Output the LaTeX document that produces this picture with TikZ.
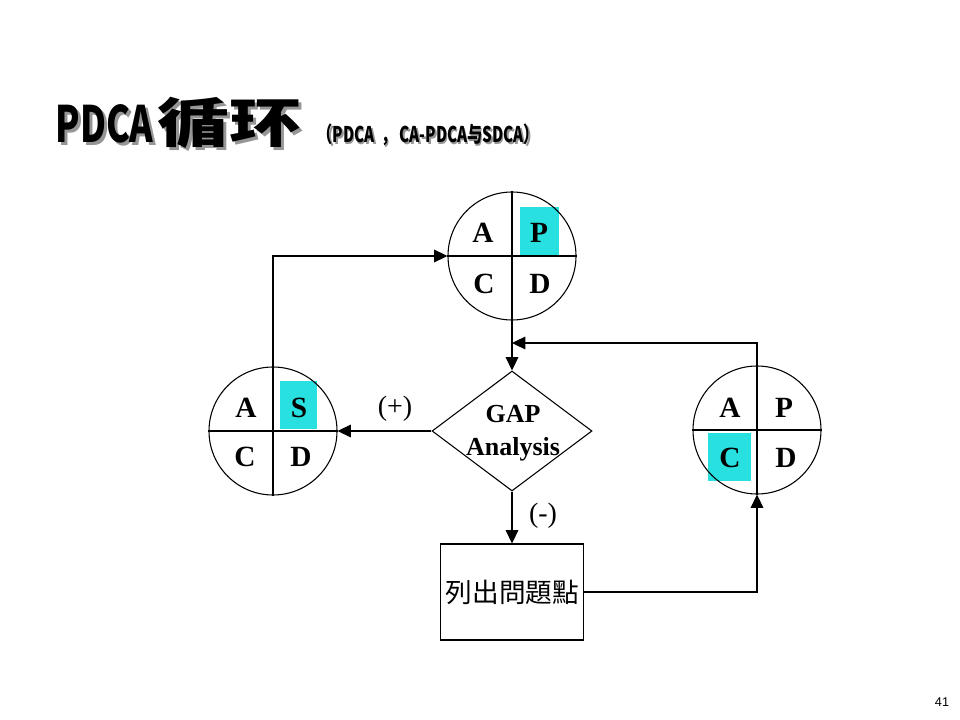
\documentclass[tikz,border=0pt]{standalone}
\usepackage{fontspec}
\setmainfont{Liberation Serif}
\newfontfamily\cjktc{Noto Sans CJK TC}
\newfontfamily\cjksc{Noto Sans CJK SC}
\newfontfamily\pagesans{Liberation Sans}
\usetikzlibrary{shapes.geometric,arrows.meta}
\definecolor{cyanbox}{RGB}{40,224,224}
\definecolor{titleshadow}{RGB}{150,150,150}
\newcommand\myshadowed[2]{\makebox[0pt][l]{\hspace{#2}\raisebox{-#2}{\textcolor{titleshadow}{#1}}}#1}
\begin{document}
\begin{tikzpicture}[x=0.75pt,y=-0.75pt,
  line width=0.8pt,
  quad/.style={circle,draw,minimum size=96pt,inner sep=0pt},
  letter/.style={font=\fontsize{22}{24}\selectfont\bfseries,inner sep=0pt},
  arr/.style={-{Triangle[length=10pt,width=9.5pt]},line width=0.8pt},
  sign/.style={font=\fontsize{21}{24}\selectfont,inner sep=0pt},
  titletext/.style={anchor=base west,inner sep=0pt,font=\cjksc\bfseries},
]
\useasboundingbox (0,0) rectangle (960,720);

% title (with its grey shadow)
\node[titletext] (title) at (55,143) {\myshadowed{\resizebox{73.5pt}{28.5pt}{PDCA}}{2.2pt}\hspace{3pt}\myshadowed{\resizebox{108pt}{34pt}{循环}}{2.2pt}};
\node[titletext] (sub) at (317,143) {\myshadowed{\resizebox{166pt}{14pt}{（PDCA\hspace{0.45em}，\hspace{0.2em}CA-PDCA与SDCA）}}{1.2pt}};

% highlight squares
\fill[cyanbox] (520,207) rectangle (559,255);
\fill[cyanbox] (280,381) rectangle (317,429);
\fill[cyanbox] (708,433) rectangle (751,481);

% circles
\node[quad] (top) at (512,256) {};
\node[quad] (left) at (273,431) {};
\node[quad] (right) at (757,430) {};
\foreach \c in {top,left,right}{
  \draw (\c.north) -- (\c.south);
  \draw (\c.west) -- (\c.east);
}

% letters
\node[letter] (tA) at (483,233) {A};
\node[letter] (tP) at (539,233) {P};
\node[letter] (tC) at (484,284) {C};
\node[letter] (tD) at (540,284) {D};
\node[letter] (lA) at (246,408) {A};
\node[letter] (lS) at (299,408) {S};
\node[letter] (lC) at (245,457) {C};
\node[letter] (lD) at (301,457) {D};
\node[letter] (rA) at (730,408) {A};
\node[letter] (rP) at (784,408) {P};
\node[letter] (rC) at (730,458) {C};
\node[letter] (rD) at (786,458) {D};

% diamond
\node[diamond,draw,minimum width=120pt,minimum height=90pt,inner sep=0pt] (gap) at (512,431) {};
\node[align=center,font=\fontsize{19.5}{25}\selectfont\bfseries,inner sep=0pt] (gaptext) at (513,433) {GAP\\Analysis};

% box
\node[rectangle,draw,minimum width=107.25pt,minimum height=72pt,inner sep=0pt] (box) at (512,592) {};
\node[font=\cjktc\fontsize{20}{22}\selectfont,inner sep=0pt] (boxtext) at (512.5,592) {列出問題點};

% signs
\node[sign] (plus) at (395,409) {(+)};
\node[sign] (minus) at (543,516) {(-)};

% connectors
\coordinate (join) at (512,343);
\draw[arr] (top.south) -- (gap.north);
\draw[arr] (right.north) |- (join);
\draw[arr] (gap.west) -- (left.east);
\draw[arr] (left.north) |- (top.west);
\draw[arr] (gap.south) -- (box.north);
\draw[arr] (box.east) -| (right.south);

% page number
\node[font=\pagesans\fontsize{9.5}{11}\selectfont,inner sep=0pt] (page) at (942,702) {41};
\end{tikzpicture}
\end{document}
